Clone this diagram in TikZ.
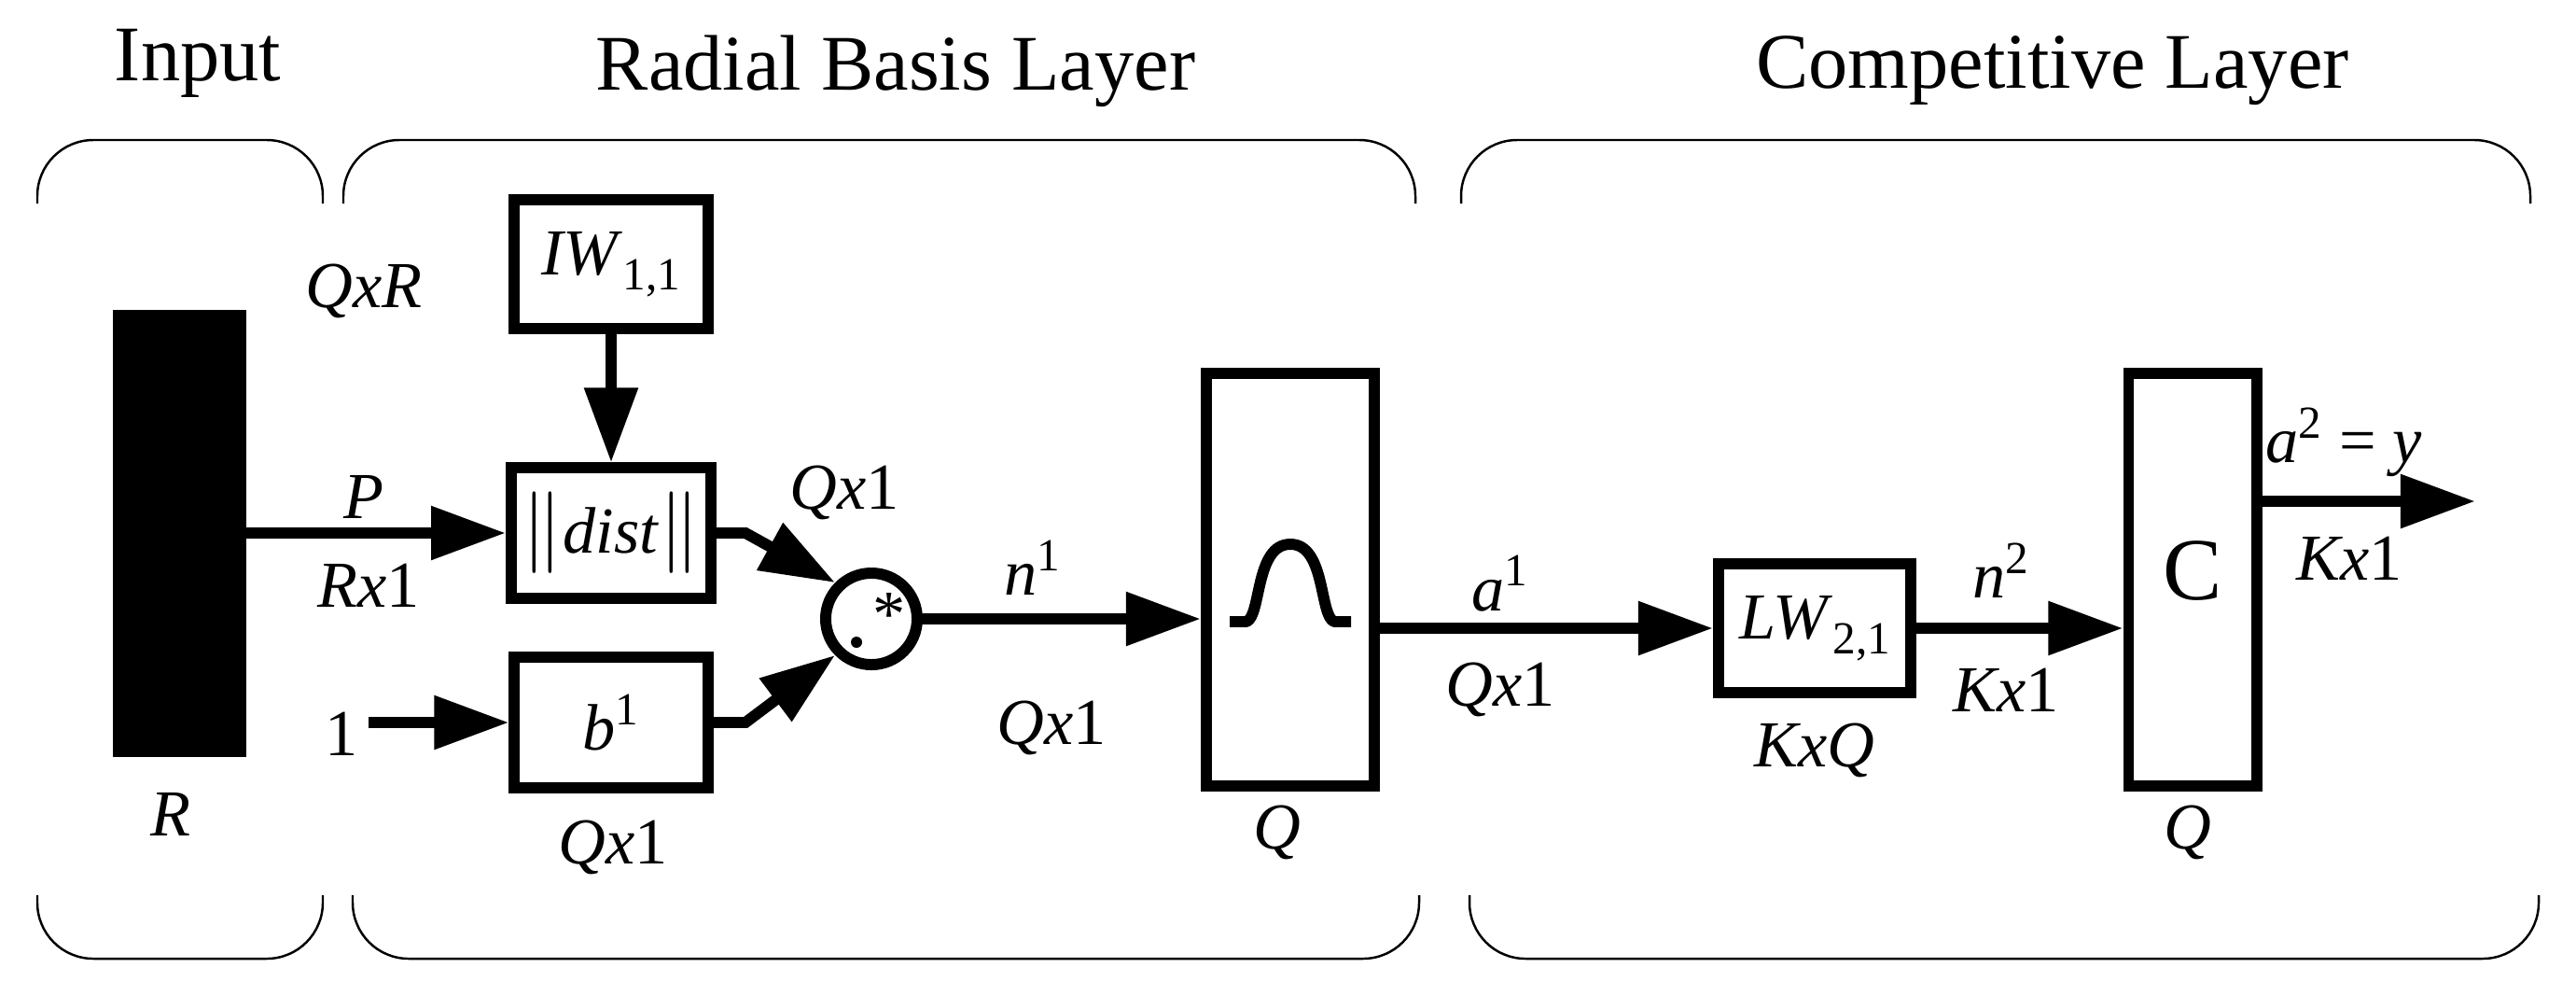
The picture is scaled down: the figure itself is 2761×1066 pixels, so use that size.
\documentclass[tikz,border=0pt]{standalone}
\usepackage{fontspec}
\setmainfont{Liberation Serif}
\usetikzlibrary{arrows.meta}
\begin{document}
\begin{tikzpicture}[x=0.01cm,y=-0.01cm,
  blk/.style={draw,line width=3.4pt},
  con/.style={line width=3.4pt,-{Triangle[length=0.8cm,width=0.55cm]}},
  br/.style={line width=0.7pt,rounded corners=0.6cm},
  lab/.style={font=\fontsize{20}{22}\selectfont},
  ttl/.style={font=\fontsize{24}{26}\selectfont}]
\useasboundingbox (0,0) rectangle (2761,1066);
% titles
\node[ttl] (t1) at (212,68) {Input};
\node[ttl] (t2) at (960,76) {Radial Basis Layer};
\node[ttl] (t3) at (2200,76) {Competitive Layer};
% brackets
\draw[br] (40,218) -- (40,150) -- (346,150) -- (346,218);
\draw[br] (368,218) -- (368,150) -- (1517,150) -- (1517,218);
\draw[br] (1566,218) -- (1566,150) -- (2712,150) -- (2712,218);
\draw[br] (40,959) -- (40,1027) -- (346,1027) -- (346,959);
\draw[br] (378,959) -- (378,1027) -- (1521,1027) -- (1521,959);
\draw[br] (1575,959) -- (1575,1027) -- (2721,1027) -- (2721,959);
% input bar
\fill (121,332) rectangle (264,811);
\coordinate (barout) at (264,571);
\node[lab] (R) at (183,872) {\textit{R}};
\node[lab] (QxR) at (390,312) {\textit{QxR}};
% boxes
\node[blk,minimum width=2.07cm,minimum height=1.37cm,lab] (IW) at (655,283) {\textit{IW}\raisebox{-0.5ex}{\fontsize{14}{15}\selectfont 1,1}};
\node[blk,minimum width=2.07cm,minimum height=1.39cm,lab] (dist) at (655,571) {\fontsize{24}{26}\selectfont$\|$\fontsize{20}{22}\selectfont\textit{dist}\fontsize{24}{26}\selectfont$\|$};
\node[blk,minimum width=2.07cm,minimum height=1.39cm,lab] (b) at (655,774) {\textit{b}\textsuperscript{1}};
\node[lab] (one) at (366,786) {1};
\coordinate (onest) at (395,774);
\node[lab] (Qb) at (657,908) {\textit{Qx}1};
\node[lab] (P) at (390,532) {\textit{P}};
\node[lab] (Rx1) at (395,627) {\textit{Rx}1};
% circle
\node[draw,circle,line width=3.4pt,minimum size=0.98cm,inner sep=0] (mul) at (934,663) {};
\fill (918,688) circle (6);
\node[font=\fontsize{20}{22}\selectfont] (star) at (953,658) {*};
\node[lab] (Qc) at (905,528) {\textit{Qx}1};
% gauss box
\node[blk,minimum width=1.8cm,minimum height=4.41cm] (G) at (1383,621) {};
\draw[line width=3.4pt,line join=round] (1318,666) -- (1336,666) .. controls (1352,660) and (1345,583) .. (1383,583) .. controls (1421,583) and (1414,660) .. (1430,666) -- (1448,666);
\node[lab] (Q1) at (1369,892) {\textit{Q}};
\node[lab] (n1) at (1107,608) {\textit{n}\textsuperscript{1}};
\node[lab] (Qn) at (1127,780) {\textit{Qx}1};
% LW
\node[blk,minimum width=2.06cm,minimum height=1.37cm,lab] (LW) at (1945,673) {\textit{LW}\raisebox{-0.5ex}{\fontsize{14}{15}\selectfont 2,1}};
\node[lab] (KxQ) at (1945,804) {\textit{KxQ}};
\node[lab] (a1) at (1608,625) {\textit{a}\textsuperscript{1}};
\node[lab] (Qa) at (1608,739) {\textit{Qx}1};
% C box
\node[blk,minimum width=1.37cm,minimum height=4.41cm] (C) at (2350,621) {};
\node[font=\fontsize{27}{29}\selectfont] (Ct) at (2350,612) {C};
\node[lab] (Q2) at (2345,892) {\textit{Q}};
\node[lab] (n2) at (2145,611) {\textit{n}\textsuperscript{2}};
\node[lab] (Kx1a) at (2150,739) {\textit{Kx}1};
\coordinate (yout) at (2653,537);
\node[lab] (ay) at (2512,474) {\textit{a}\textsuperscript{2} = \textit{y}};
\node[lab] (Kx1b) at (2518,598) {\textit{Kx}1};
% connectors
\draw[con] (barout) -- (dist.west);
\draw[con] (IW.south) -- (dist.north);
\draw[con] (onest) -- (b.west);
\draw[con] (dist.east) -- (799,571) -- (mul.north west);
\draw[con] (b.east) -- (799,774) -- (mul.south west);
\draw[con] (mul.east) -- (G.west |- mul.east);
\draw[con] (G.east |- LW.west) -- (LW.west);
\draw[con] (LW.east) -- (C.west |- LW.east);
\draw[con] (C.east |- yout) -- (yout);
\end{tikzpicture}
\end{document}
